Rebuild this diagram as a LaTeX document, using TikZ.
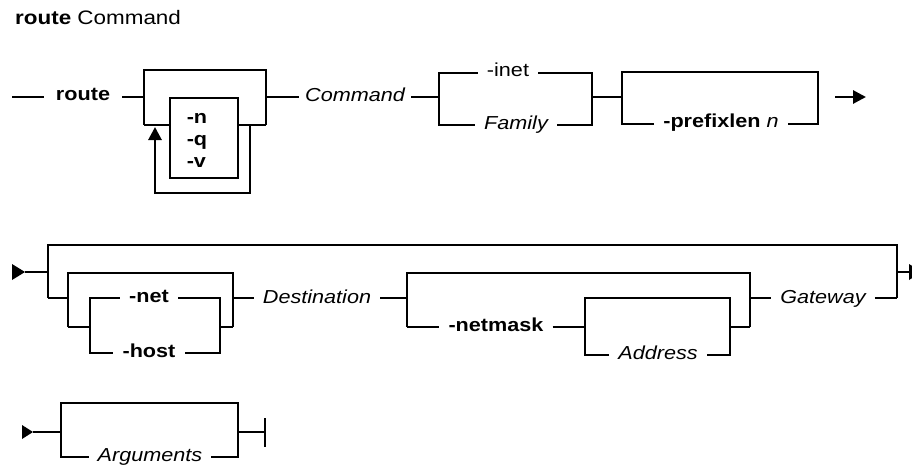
\documentclass[tikz,border=0pt]{standalone}
\usepackage{fontspec}
\setmainfont{Liberation Sans}[FakeStretch=1.15]
\usetikzlibrary{arrows.meta}

\begin{document}
\begin{tikzpicture}[x=1pt,y=-1pt,>={Triangle[length=13pt,width=13pt]},
  rail/.style={line width=2.8pt,line join=miter},
  kw/.style={font=\fontsize{18.8}{22}\selectfont\bfseries,text height=12pt,text depth=4pt,inner xsep=9pt,inner ysep=0pt},
  var/.style={kw,font=\fontsize{18.8}{22}\selectfont\itshape},
  lit/.style={kw,font=\fontsize{18.8}{22}\selectfont}]
\useasboundingbox (0,0) rectangle (912,468);

\node (title) [anchor=west,inner sep=0pt,font=\fontsize{19.5}{22}\selectfont] at (15,18) {\textbf{route} Command};

% first line
\coordinate (r1in) at (12,97);
\coordinate (r1out) at (866,97);
\node (route) [kw,inner xsep=12pt] at (83,97) {route};
\node (flagbox) [rail,draw,minimum width=68pt,minimum height=80pt] at (204,138) {};
\node (flags) [font=\fontsize{18.8}{22}\selectfont\bfseries,align=left,inner sep=0pt] at (197,140) {-n\\-q\\-v};
\node (cmd) [var,inner xsep=6pt] at (355,98) {Command};
\node (inet) [lit] at (508,73) {-inet};
\node (family) [var] at (516,125) {Family};
\node (pfx) [kw] at (721,124) {-prefixlen \textmd{\textit{n}}};

\draw[rail] (r1in) -- (route.west |- 0,97);
\draw[rail] (route.east |- 0,97) -- (144,97);
\draw[rail] (144,125) -- (144,70) -- (266,70) -- (266,125);
\draw[rail] (144,125) -- (flagbox.west |- 0,125);
\draw[rail] (flagbox.east |- 0,125) -- (266,125);
\draw[rail,->] (250,125) -- (250,193) -- (155,193) -- (155,127);
\draw[rail] (266,97) -- (cmd.west |- 0,97);
\draw[rail] (cmd.east |- 0,97) -- (439,97);
\draw[rail] (inet.west) -- (439,73) -- (439,125) -- (family.west);
\draw[rail] (inet.east) -- (592,73) -- (592,125) -- (family.east);
\draw[rail] (592,97) -- (622,97);
\draw[rail] (pfx.west) -- (622,124) -- (622,72) -- (818,72) -- (818,124) -- (pfx.east);
\draw[rail,->] (835,97) -- (r1out);

% second line
\coordinate (r2in) at (12,272);
\coordinate (r2out) at (909,272);
\fill (r2in) ++(0,-8) -- ++(13,8) -- ++(-13,8) -- cycle;
\draw[rail] (25,272) -- (48,272);
\draw[rail] (48,298) -- (48,245) -- (897,245) -- (897,298);
\draw[rail] (897,272) -- (r2out);
\begin{scope}
  \clip (0,0) rectangle (912,468);
  \fill (r2out) ++(0,-8) -- ++(13,8) -- ++(-13,8) -- cycle;
\end{scope}
\draw[rail] (48,298) -- (68,298);
\draw[rail] (68,327) -- (68,273) -- (233,273) -- (233,327);
\draw[rail] (68,327) -- (90,327);
\node (net) [kw] at (149,298) {-net};
\node (host) [kw] at (149,353) {-host};
\draw[rail] (net.west) -- (90,298) -- (90,353) -- (host.west);
\draw[rail] (net.east) -- (220,298) -- (220,353) -- (host.east);
\draw[rail] (220,327) -- (233,327);
\node (dest) [var] at (317,299) {Destination};
\draw[rail] (233,298) -- (dest.west |- 0,298);
\draw[rail] (dest.east |- 0,298) -- (407,298);
\draw[rail] (407,327) -- (407,273) -- (750,273) -- (750,327);
\node (netmask) [kw] at (496,327) {-netmask};
\draw[rail] (407,327) -- (netmask);
\draw[rail] (netmask) -- (585,327);
\node (addr) [var] at (658,355) {Address};
\draw[rail] (addr.west) -- (585,355) -- (585,298) -- (730,298) -- (730,355) -- (addr.east);
\draw[rail] (730,327) -- (750,327);
\node (gw) [var] at (823,299) {Gateway};
\draw[rail] (750,298) -- (gw.west |- 0,298);
\draw[rail] (gw.east |- 0,298) -- (897,298);

% third line
\coordinate (r3in) at (22,432);
\coordinate (r3end) at (265,432);
\fill (r3in) ++(0,-7) -- ++(11,7) -- ++(-11,7) -- cycle;
\draw[rail] (33,432) -- (61,432);
\node (args) [var] at (150,457) {Arguments};
\draw[rail] (args.west) -- (61,457) -- (61,403) -- (238,403) -- (238,457) -- (args.east);
\draw[rail] (238,432) -- (r3end);
\draw[rail] (265,418) -- (265,447);
\end{tikzpicture}
\end{document}
